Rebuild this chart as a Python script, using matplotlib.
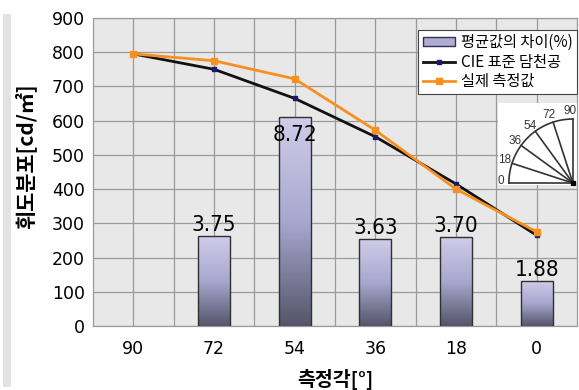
import numpy as np
import matplotlib
matplotlib.use("Agg")
import matplotlib.pyplot as plt
from matplotlib.colors import LinearSegmentedColormap
from matplotlib.patches import Rectangle

plt.rcParams['font.family'] = ['DejaVu Sans', 'Noto Sans CJK KR']

angles = ['90', '72', '54', '36', '18', '0']
cie_std = [795, 750, 665, 553, 415, 265]
measured = [795, 775, 722, 572, 400, 275]
diff_pct = [np.nan, 3.75, 8.72, 3.63, 3.70, 1.88]
dial_angles = [0, 18, 36, 54, 72, 90]

kr = ['Noto Sans CJK KR', 'DejaVu Sans']
pct_top = 12.86

fig = plt.figure(figsize=(5.79, 3.90), dpi=100)
fig.patches.append(Rectangle((0.006, 0.008), 0.013, 0.956, transform=fig.transFigure,
                             facecolor='#e3e3e3', edgecolor='none', zorder=0))

axb = fig.add_axes([0.1606, 0.164, 0.836, 0.790])
ax = axb.twinx()
ax.set_zorder(axb.get_zorder() + 1)
ax.patch.set_visible(False)
axb.set_facecolor('#e8e8e8')

x = np.arange(len(angles))

# bars with a vertical lavender-to-slate gradient
cmap = LinearSegmentedColormap.from_list('bar', ['#55546a', '#a9a7cf', '#d0cce9'])
grad = np.linspace(0, 1, 256).reshape(-1, 1)
w = 0.4
for xi, v in zip(x, diff_pct):
    if np.isnan(v):
        continue
    rect = axb.bar(xi, v, width=w, color='none', edgecolor='#303030', linewidth=1.0, zorder=3)[0]
    im = axb.imshow(grad, cmap=cmap, origin='lower', aspect='auto',
                    extent=(xi - w / 2, xi + w / 2, 0, v), zorder=2)
    im.set_clip_path(rect)
    if v == np.nanmax(diff_pct):
        axb.annotate(f'{v:.2f}', (xi, v), xytext=(0, -6), textcoords='offset points',
                     ha='center', va='top', fontsize=16, fontstretch='condensed',
                     family='DejaVu Sans', zorder=4)
    else:
        axb.annotate(f'{v:.2f}', (xi, v), xytext=(0, 1), textcoords='offset points',
                     ha='center', va='bottom', fontsize=16, fontstretch='condensed',
                     family='DejaVu Sans', zorder=4)

axb.set_xlim(-0.5, len(angles) - 0.5)
axb.set_ylim(0, pct_top)
axb.set_yticks(np.arange(0, 901, 100) / 900 * pct_top)
axb.set_xticks(x)
axb.set_xticks(x[:-1] + 0.5, minor=True)
axb.set_xticklabels(angles, fontsize=12.5)
axb.tick_params(axis='x', which='both', length=0, pad=10)
axb.tick_params(axis='y', which='both', left=False, labelleft=False, right=False, labelright=False)
axb.grid(True, which='both', color='#9a9a9a', linewidth=0.9, zorder=1)
axb.set_axisbelow(True)
axb.set_xlabel('측정각[°]', family=kr, fontsize=14, fontweight='bold', labelpad=8)

ax.plot(x, cie_std, color='#111111', linewidth=2, marker='s', markersize=3,
        markerfacecolor='#1a1a6e', markeredgecolor='#1a1a6e', zorder=5)
ax.plot(x, measured, color='#f7901e', linewidth=2, marker='s', markersize=4,
        markerfacecolor='#f7901e', markeredgecolor='#f7901e', zorder=6)
ax.set_ylim(0, 900)
ax.set_yticks(np.arange(0, 901, 100))
ax.yaxis.tick_left()
ax.yaxis.set_label_position('left')
ax.tick_params(axis='y', length=0, pad=6, labelsize=12.5)
ax.set_ylabel('휘도분포[cd/㎡]', family=kr, fontsize=15, fontweight='bold')
ax.yaxis.set_label_coords(-0.118, 0.55)

for a in (ax, axb):
    for s in a.spines.values():
        s.set_color('#9a9a9a')

# legend
h_bar = Rectangle((0, 0), 1, 1, facecolor='#aeacd2', edgecolor='#303050', linewidth=1)
h_cie, = ax.plot([], [], color='#111111', linewidth=2, marker='s', markersize=3,
                 markerfacecolor='#1a1a6e', markeredgecolor='#1a1a6e')
h_meas, = ax.plot([], [], color='#f7901e', linewidth=2, marker='s', markersize=4,
                  markerfacecolor='#f7901e', markeredgecolor='#f7901e')
leg = ax.legend([h_bar, h_cie, h_meas], ['평균값의 차이(%)', 'CIE 표준 담천공', '실제 측정값'],
                loc='upper right', bbox_to_anchor=(1.0, 0.962), borderaxespad=0,
                prop={'family': kr, 'size': 11}, fancybox=False, framealpha=1,
                edgecolor='#444444', handlelength=2.1, handleheight=0.5, handletextpad=0.4,
                labelspacing=0.15, borderpad=0.3)
leg.get_frame().set_linewidth(0.8)

# measuring-angle dial
axi = fig.add_axes([498 / 579, 1 - 185 / 390, 80 / 579, 82 / 390])
axi.set_facecolor('white')
for s in axi.spines.values():
    s.set_visible(False)
axi.set_xticks([])
axi.set_yticks([])
t = np.radians(np.linspace(0, 90, 60))
axi.plot(-np.cos(t), np.sin(t), color='#333333', linewidth=1.2)
for d in dial_angles:
    a = np.radians(d)
    axi.plot([0, -np.cos(a)], [0, np.sin(a)], color='#333333', linewidth=1.2)
    la = np.radians(d + 1.5 - d * 0.04)
    axi.text(-1.12 * np.cos(la), 1.12 * np.sin(la), str(d), fontsize=8.5, color='#333333',
             family='Liberation Sans', ha='center', va='center')
axi.plot(0, 0, marker='s', markersize=3, color='black')
axi.set_xlim(-1.17, 0.08)
axi.set_ylim(-0.03, 1.25)

fig.savefig('out.png', dpi=100)
